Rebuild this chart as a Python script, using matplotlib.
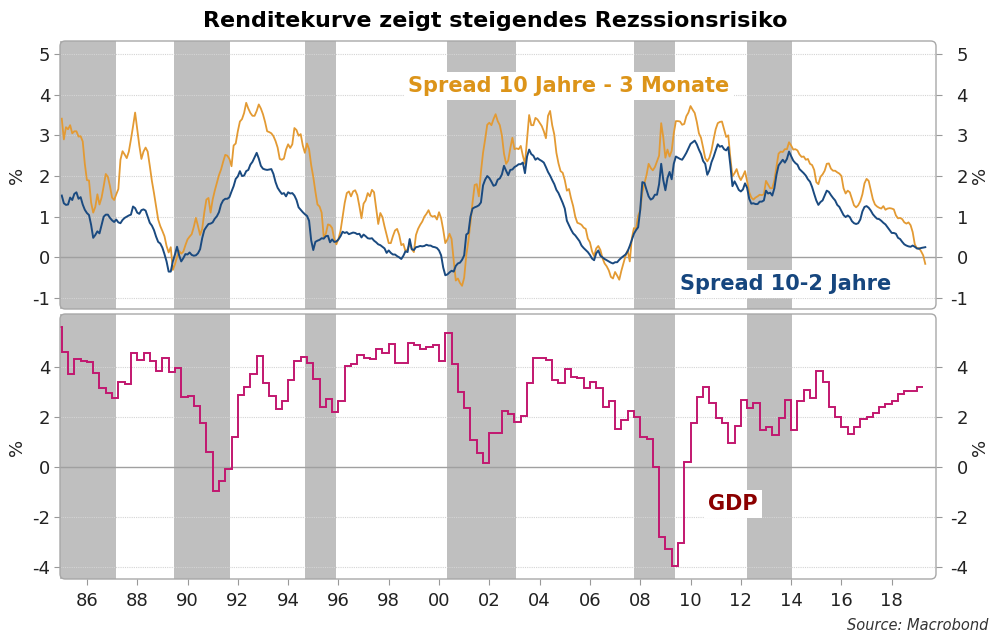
import numpy as np
import matplotlib
matplotlib.use('Agg')
import matplotlib.pyplot as plt
from matplotlib.patches import FancyBboxPatch

plt.rcParams['axes.unicode_minus'] = False
plt.rcParams['font.family'] = ['DejaVu Sans']

# Zinsspread 10 Jahre - 3 Monate, monatlich ab Jan 1985
spread_10y3m = [
    3.41, 2.90, 3.20, 3.15, 3.25, 3.05, 3.10, 3.10, 2.97, 2.98, 2.85, 2.30,
    1.90, 1.89, 1.35, 1.10, 1.24, 1.55, 1.30, 1.47, 1.75, 2.05, 1.98, 1.75,
    1.47, 1.41, 1.55, 1.68, 2.40, 2.61, 2.53, 2.44, 2.60, 2.90, 3.22, 3.56,
    3.15, 2.75, 2.42, 2.60, 2.70, 2.60, 2.25, 1.88, 1.58, 1.25, 0.93, 0.77,
    0.65, 0.52, 0.28, 0.12, 0.25, -0.31, -0.17, 0.01, 0.16, 0.09, 0.14, 0.30,
    0.44, 0.51, 0.57, 0.75, 0.97, 0.77, 0.55, 0.70, 1.10, 1.42, 1.46, 1.10,
    1.42, 1.64, 1.83, 2.02, 2.16, 2.35, 2.52, 2.50, 2.42, 2.24, 2.75, 2.80,
    3.10, 3.34, 3.40, 3.55, 3.80, 3.66, 3.55, 3.48, 3.48, 3.60, 3.76, 3.66,
    3.52, 3.33, 3.10, 3.08, 3.05, 2.98, 2.86, 2.70, 2.42, 2.40, 2.43, 2.65,
    2.78, 2.69, 2.78, 3.18, 3.13, 2.99, 3.03, 2.75, 2.57, 2.80, 2.66, 2.27,
    1.98, 1.62, 1.30, 1.25, 1.10, 0.50, 0.58, 0.81, 0.79, 0.72, 0.45, 0.32,
    0.45, 0.65, 1.00, 1.34, 1.58, 1.62, 1.50, 1.62, 1.65, 1.53, 1.26, 0.96,
    1.32, 1.40, 1.58, 1.50, 1.66, 1.60, 1.20, 0.82, 1.09, 0.99, 0.76, 0.56,
    0.35, 0.35, 0.52, 0.66, 0.70, 0.55, 0.30, 0.33, 0.15, 0.20, 0.33, 0.20,
    0.13, 0.55, 0.70, 0.80, 0.88, 1.00, 1.07, 1.16, 1.03, 1.00, 1.02, 0.93,
    1.11, 0.96, 0.68, 0.35, 0.44, 0.58, 0.45, -0.08, -0.57, -0.52, -0.63, -0.70,
    -0.50, 0.05, 0.40, 0.85, 1.35, 1.78, 1.80, 1.50, 2.10, 2.57, 2.90, 3.26,
    3.31, 3.25, 3.40, 3.52, 3.35, 3.25, 3.00, 2.55, 2.30, 2.38, 2.68, 2.94,
    2.66, 2.68, 2.66, 2.74, 2.50, 2.30, 2.90, 3.50, 3.25, 3.25, 3.43, 3.39,
    3.31, 3.23, 3.10, 2.93, 3.48, 3.60, 3.25, 3.02, 2.57, 2.31, 2.12, 2.08,
    1.90, 1.64, 1.68, 1.45, 1.26, 1.00, 0.85, 0.83, 0.80, 0.73, 0.70, 0.46,
    0.37, 0.15, 0.03, 0.22, 0.28, 0.18, -0.02, -0.15, -0.22, -0.32, -0.48, -0.52,
    -0.36, -0.45, -0.55, -0.33, -0.14, 0.04, 0.17, -0.10, 0.47, 0.72, 0.70, 1.02,
    1.15, 1.60, 1.82, 2.02, 2.30, 2.20, 2.14, 2.22, 2.36, 2.50, 3.30, 2.95,
    2.45, 2.65, 2.48, 2.62, 3.05, 3.35, 3.35, 3.34, 3.26, 3.28, 3.47, 3.56,
    3.72, 3.63, 3.55, 3.33, 3.05, 2.94, 2.70, 2.44, 2.36, 2.45, 2.63, 2.90,
    3.15, 3.30, 3.33, 3.34, 3.15, 2.96, 3.00, 2.45, 1.99, 2.07, 2.17, 2.00,
    1.90, 2.00, 2.12, 1.87, 1.60, 1.47, 1.42, 1.47, 1.50, 1.54, 1.53, 1.55,
    1.88, 1.79, 1.70, 1.70, 1.89, 2.23, 2.55, 2.60, 2.59, 2.66, 2.66, 2.83,
    2.75, 2.65, 2.66, 2.63, 2.53, 2.47, 2.48, 2.40, 2.42, 2.30, 2.27, 2.15,
    1.85, 1.80, 1.98, 2.04, 2.13, 2.30, 2.31, 2.18, 2.13, 2.13, 2.09, 2.06,
    2.00, 1.70, 1.57, 1.64, 1.60, 1.44, 1.28, 1.23, 1.28, 1.38, 1.55, 1.82,
    1.93, 1.88, 1.65, 1.43, 1.30, 1.25, 1.22, 1.20, 1.26, 1.17, 1.20, 1.21,
    1.20, 1.18, 1.03, 0.96, 0.97, 0.94, 0.86, 0.83, 0.86, 0.79, 0.62, 0.32,
    0.22, 0.23, 0.15, 0.05, -0.16,
]

# Zinsspread 10 Jahre - 2 Jahre, monatlich ab Jan 1985
spread_10y2y = [
    1.52, 1.33, 1.29, 1.30, 1.47, 1.41, 1.56, 1.60, 1.44, 1.48, 1.30, 1.17,
    1.09, 1.04, 0.80, 0.48, 0.55, 0.64, 0.59, 0.80, 1.00, 1.05, 1.05, 0.97,
    0.91, 0.87, 0.93, 0.86, 0.84, 0.92, 0.97, 1.00, 1.03, 1.05, 1.25, 1.21,
    1.10, 1.07, 1.16, 1.18, 1.15, 1.00, 0.85, 0.78, 0.67, 0.51, 0.38, 0.34,
    0.24, 0.08, -0.10, -0.35, -0.35, -0.10, 0.07, 0.26, 0.05, -0.10, -0.02, 0.08,
    0.07, 0.12, 0.06, 0.04, 0.05, 0.10, 0.20, 0.47, 0.67, 0.75, 0.82, 0.83,
    0.86, 0.95, 1.01, 1.11, 1.30, 1.40, 1.44, 1.44, 1.48, 1.62, 1.75, 1.93,
    1.99, 2.12, 2.00, 2.01, 2.12, 2.15, 2.28, 2.35, 2.46, 2.57, 2.43, 2.25,
    2.18, 2.16, 2.15, 2.16, 2.17, 2.05, 1.85, 1.71, 1.63, 1.56, 1.58, 1.50,
    1.60, 1.57, 1.58, 1.52, 1.41, 1.23, 1.17, 1.11, 1.06, 1.02, 0.90, 0.42,
    0.18, 0.38, 0.41, 0.43, 0.47, 0.46, 0.52, 0.53, 0.37, 0.44, 0.38, 0.39,
    0.44, 0.52, 0.63, 0.60, 0.62, 0.57, 0.59, 0.61, 0.60, 0.57, 0.58, 0.49,
    0.56, 0.52, 0.47, 0.46, 0.47, 0.41, 0.37, 0.32, 0.30, 0.26, 0.22, 0.11,
    0.17, 0.11, 0.07, 0.07, 0.03, 0.00, -0.04, 0.04, 0.15, 0.13, 0.45, 0.20,
    0.18, 0.25, 0.26, 0.28, 0.27, 0.28, 0.31, 0.29, 0.29, 0.26, 0.25, 0.23,
    0.17, 0.05, -0.25, -0.44, -0.42, -0.37, -0.33, -0.35, -0.21, -0.15, -0.13, -0.06,
    0.05, 0.56, 0.60, 1.00, 1.20, 1.23, 1.25, 1.28, 1.35, 1.77, 1.91, 2.00,
    1.95, 1.86, 1.76, 1.78, 1.91, 1.94, 2.04, 2.25, 2.13, 2.02, 2.15, 2.16,
    2.22, 2.25, 2.29, 2.29, 2.33, 2.07, 2.48, 2.65, 2.54, 2.50, 2.40, 2.44,
    2.40, 2.37, 2.33, 2.22, 2.10, 2.01, 1.90, 1.80, 1.66, 1.58, 1.46, 1.34,
    1.20, 0.90, 0.79, 0.68, 0.59, 0.54, 0.47, 0.40, 0.29, 0.23, 0.18, 0.13,
    0.06, -0.03, -0.07, 0.10, 0.17, 0.04, 0.00, -0.04, -0.07, -0.10, -0.13, -0.15,
    -0.12, -0.12, -0.06, -0.01, 0.03, 0.07, 0.15, 0.28, 0.43, 0.58, 0.67, 0.74,
    1.17, 1.85, 1.83, 1.66, 1.50, 1.42, 1.45, 1.54, 1.54, 1.80, 2.30, 1.90,
    1.65, 1.95, 2.10, 1.92, 2.30, 2.48, 2.45, 2.42, 2.40, 2.48, 2.57, 2.68,
    2.79, 2.83, 2.87, 2.78, 2.65, 2.54, 2.37, 2.30, 2.03, 2.14, 2.34, 2.47,
    2.63, 2.78, 2.72, 2.74, 2.66, 2.63, 2.71, 2.27, 1.75, 1.87, 1.77, 1.66,
    1.62, 1.67, 1.82, 1.71, 1.44, 1.32, 1.33, 1.31, 1.31, 1.37, 1.37, 1.40,
    1.64, 1.57, 1.59, 1.52, 1.70, 2.03, 2.26, 2.33, 2.40, 2.33, 2.42, 2.60,
    2.49, 2.38, 2.32, 2.28, 2.17, 2.12, 2.07, 2.01, 1.92, 1.86, 1.73, 1.56,
    1.40, 1.29, 1.36, 1.40, 1.52, 1.64, 1.61, 1.53, 1.46, 1.40, 1.29, 1.24,
    1.14, 1.04, 0.99, 1.03, 0.99, 0.89, 0.84, 0.82, 0.84, 0.93, 1.13, 1.24,
    1.26, 1.22, 1.15, 1.06, 1.00, 0.95, 0.94, 0.90, 0.85, 0.81, 0.74, 0.67,
    0.60, 0.60, 0.58, 0.48, 0.45, 0.38, 0.32, 0.29, 0.27, 0.26, 0.29, 0.26,
    0.22, 0.21, 0.23, 0.24, 0.25,
]

# BIP-Wachstum ggü. Vorjahr, quartalsweise ab Q4 1984
gdp = [
    5.61,
    4.61, 3.72, 4.31, 4.24,
    4.19, 3.75, 3.15, 2.95,
    2.75, 3.41, 3.32, 4.55,
    4.28, 4.55, 4.24, 3.84,
    4.37, 3.79, 3.97, 2.79,
    2.84, 2.44, 1.75, 0.61,
    -0.95, -0.55, -0.09, 1.19,
    2.88, 3.19, 3.72, 4.44,
    3.37, 2.84, 2.31, 2.65,
    3.48, 4.25, 4.39, 4.17,
    3.51, 2.41, 2.71, 2.21,
    2.65, 4.04, 4.11, 4.48,
    4.35, 4.33, 4.72, 4.55,
    4.91, 4.15, 4.15, 4.95,
    4.88, 4.71, 4.79, 4.88,
    4.25, 5.37, 4.12, 3.01,
    2.35, 1.08, 0.55, 0.17,
    1.35, 1.35, 2.25, 2.12,
    1.81, 2.04, 3.35, 4.37,
    4.37, 4.28, 3.48, 3.35,
    3.91, 3.61, 3.55, 3.15,
    3.41, 3.15, 2.39, 2.65,
    1.52, 1.88, 2.25, 2.01,
    1.19, 1.11, 0.01, -2.79,
    -3.29, -3.96, -3.05, 0.19,
    1.75, 2.81, 3.21, 2.57,
    1.95, 1.77, 0.95, 1.64,
    2.68, 2.37, 2.57, 1.48,
    1.61, 1.27, 1.95, 2.68,
    1.48, 2.65, 3.08, 2.75,
    3.85, 3.41, 2.41, 2.01,
    1.59, 1.32, 1.59, 1.91,
    1.99, 2.15, 2.39, 2.51,
    2.65, 2.91, 3.04, 3.04,
    3.21,
]

# grau hinterlegte Phasen
shade_start = [1984.9, 1989.45, 1994.68, 2000.33, 2007.74, 2012.23]
shade_end = [1987.17, 1991.67, 1995.90, 2003.06, 2009.39, 2014.04]

year_ticks = list(range(1986, 2019, 2))
year_labels = ['%02d' % (y % 100) for y in year_ticks]
top_ticks = [-1, 0, 1, 2, 3, 4, 5]
bottom_ticks = [-4, -2, 0, 2, 4]

t_month = 1985 + np.arange(len(spread_10y3m)) / 12
t_quarter = 1984.75 + np.arange(len(gdp) + 1) * 0.25

W, H = 990, 632
fig = plt.figure(figsize=(W / 100, H / 100), dpi=100)
ax1 = fig.add_axes([60 / W, 1 - 309 / H, 876 / W, 268 / H])
ax2 = fig.add_axes([60 / W, 1 - 579 / H, 876 / W, 265 / H])

grey = '#999999'
for ax, ticks, ylim, hpx in [(ax1, top_ticks, (-1.27, 5.32), 268),
                             (ax2, bottom_ticks, (-4.48, 6.12), 265)]:
    ax.set_xlim(1984.93, 2019.76)
    ax.set_ylim(*ylim)
    for s, e in zip(shade_start, shade_end):
        ax.axvspan(s, e, color='#bfbfbf', lw=0, zorder=0)
    for v in ticks:
        if v != 0:
            ax.axhline(v, color='#d4d4d4', lw=0.8, ls=(0, (1, 1)), zorder=1)
    ax.axhline(0, color='#a0a0a0', lw=1.0, zorder=1)
    ax.set_yticks(ticks)
    ax.tick_params(axis='y', length=4, color=grey, labelsize=13, pad=3,
                   labelcolor='#222222')
    for sp in ax.spines.values():
        sp.set_visible(False)
    frame = FancyBboxPatch((0, 0), 1, 1, boxstyle='round,pad=0,rounding_size=0.006',
                           mutation_aspect=876 / hpx, transform=ax.transAxes,
                           fill=False, ec='#a8a8a8', lw=1.0, clip_on=False, zorder=5)
    ax.add_patch(frame)

    tw = ax.twinx()
    tw.set_ylim(*ylim)
    tw.set_yticks(ticks)
    tw.tick_params(axis='y', length=4, color=grey, labelsize=13, pad=19,
                   labelcolor='#222222')
    for lab in tw.get_yticklabels():
        lab.set_horizontalalignment('right')
    for sp in tw.spines.values():
        sp.set_visible(False)

ax1.set_xticks([])
ax2.set_xticks(year_ticks)
ax2.set_xticklabels(year_labels)
ax2.tick_params(axis='x', length=4, color=grey, labelsize=13, pad=5,
                labelcolor='#222222')

ax1.plot(t_month, spread_10y3m, color='#e39a33', lw=1.3, zorder=3)
ax1.plot(t_month, spread_10y2y, color='#1a4a80', lw=1.4, zorder=4)
ax2.stairs(gdp, t_quarter, baseline=None, color='#c2176f', lw=1.4, zorder=3)

ax1.text(2005.17, 4.22, 'Spread 10 Jahre - 3 Monate', color='#dc9419',
         fontsize=15, fontweight='bold', ha='center', va='center', zorder=6,
         bbox=dict(fc='white', ec='none', pad=3))
ax1.text(2013.77, -0.65, 'Spread 10-2 Jahre', color='#16467e',
         fontsize=15, fontweight='bold', ha='center', va='center', zorder=6,
         bbox=dict(fc='white', ec='none', pad=3))
ax2.text(2011.67, -1.48, 'GDP', color='#8b0000',
         fontsize=15, fontweight='bold', ha='center', va='center', zorder=6,
         bbox=dict(fc='white', ec='none', pad=3))

fig.text(0.5, 1 - 21 / H, 'Renditekurve zeigt steigendes Rezssionsrisiko',
         ha='center', va='center', fontsize=16, fontweight='bold')
for yc in (175, 447):
    fig.text(17 / W, 1 - yc / H, '%', rotation=90, ha='center', va='center',
             fontsize=13, color='#222222')
    fig.text(980 / W, 1 - yc / H, '%', rotation=90, ha='center', va='center',
             fontsize=13, color='#222222')
fig.text(988 / W, 1 - 625 / H, 'Source: Macrobond', ha='right', va='center',
         fontsize=10.5, style='italic', color='#333333')

fig.savefig('out.png', dpi=100)
